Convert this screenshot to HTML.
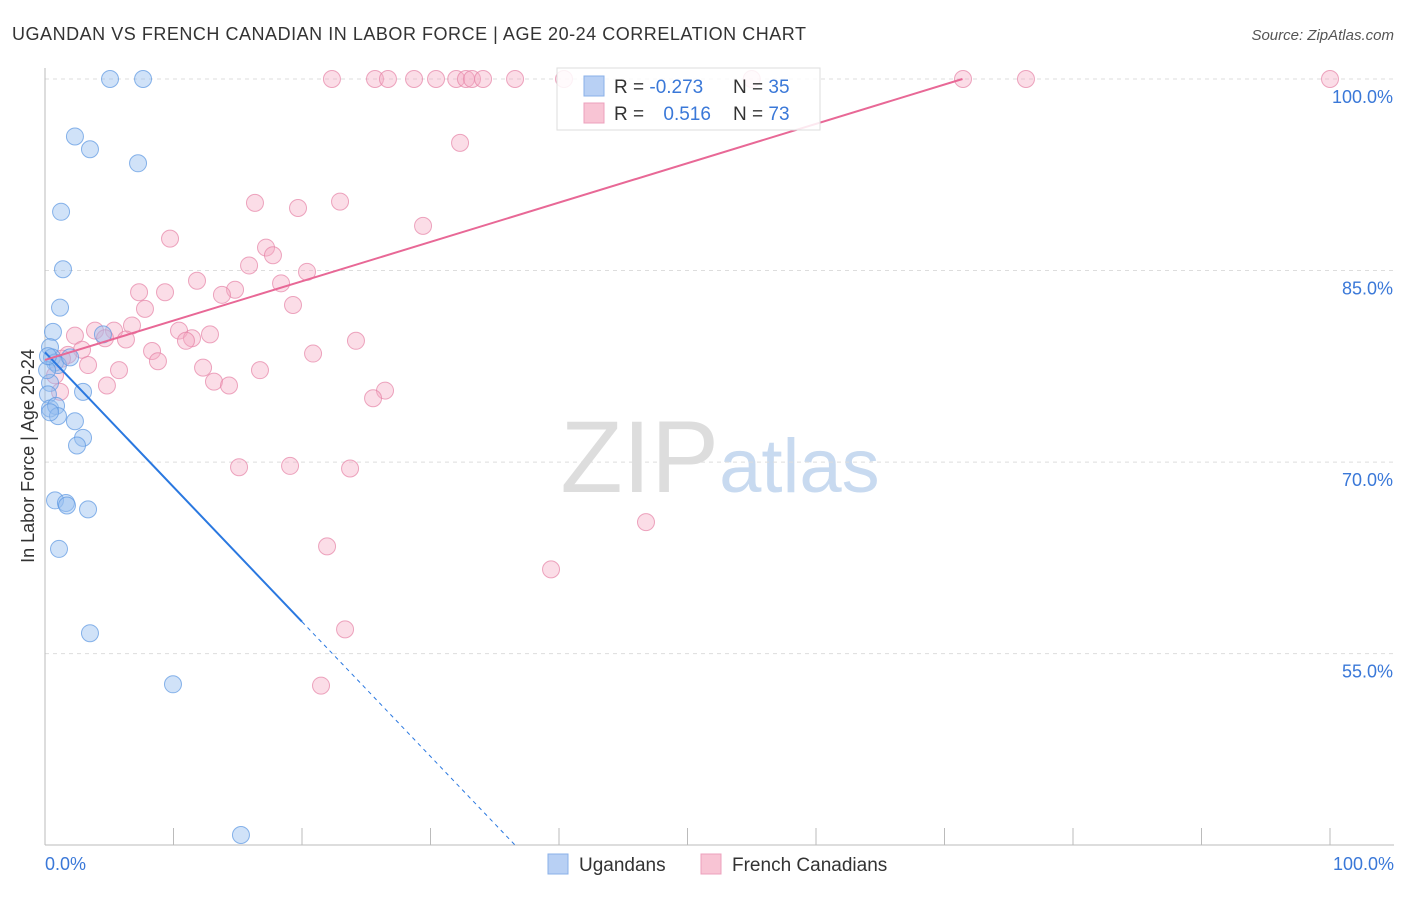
<!DOCTYPE html>
<html><head><meta charset="utf-8">
<style>
body{margin:0;background:#fff;font-family:"Liberation Sans",sans-serif;}
svg text{font-family:"Liberation Sans",sans-serif;}
</style></head>
<body>
<svg id="chart" width="1406" height="892">
<text x="12" y="40" font-size="18" fill="#333" textLength="794">UGANDAN VS FRENCH CANADIAN IN LABOR FORCE | AGE 20-24 CORRELATION CHART</text>
<text x="1394" y="40" font-size="15" fill="#555" font-style="italic" text-anchor="end">Source: ZipAtlas.com</text>
<text x="720" y="492" font-size="102" fill="#ddd" text-anchor="middle" font-family="Liberation Serif">ZIP<tspan fill="#c8daf0" font-family="Liberation Sans" font-size="76">atlas</tspan></text>
<g id="grid"></g>
<g id="axes"></g>
<g id="marks"></g>
<text transform="translate(34,456) rotate(-90)" font-size="18" fill="#333" text-anchor="middle">In Labor Force | Age 20-24</text>
<g>
<rect x="557" y="68" width="263" height="62" fill="#fff" fill-opacity="0.85" stroke="#ddd"/>
<rect x="584" y="76" width="20" height="20" fill="#b8d0f4" stroke="#8ab0e8"/>
<rect x="584" y="103" width="20" height="20" fill="#f8c4d4" stroke="#eca0bc"/>
<text x="614" y="93" font-size="19" fill="#333">R = <tspan fill="#3a78d8">-0.273</tspan></text>
<text x="733" y="93" font-size="19" fill="#333">N = <tspan fill="#3a78d8">35</tspan></text>
<text x="614" y="120" font-size="19" fill="#333">R = <tspan fill="#3a78d8" dx="14">0.516</tspan></text>
<text x="733" y="120" font-size="19" fill="#333">N = <tspan fill="#3a78d8">73</tspan></text>
</g>
<g>
<rect x="548" y="854" width="20" height="20" fill="#b8d0f4" stroke="#8ab0e8"/>
<text x="579" y="871" font-size="19" fill="#333">Ugandans</text>
<rect x="701" y="854" width="20" height="20" fill="#f8c4d4" stroke="#eca0bc"/>
<text x="732" y="871" font-size="19" fill="#333">French Canadians</text>
</g>
</svg>
<script>
const yTicks=[55,70,85,100];
const yTickLabels=["55.0%","70.0%","85.0%","100.0%"];
const xTickLabels=["0.0%","100.0%"];
const ugX=[5.06,7.63,2.33,3.5,7.24,1.25,1.4,1.17,0.62,0.39,0.54,0.78,1.01,1.95,0.39,0.23,2.96,0.39,0.86,1.01,2.33,2.96,2.49,0.78,1.63,1.71,3.35,1.09,3.5,9.96,15.25,4.51,0.16,0.39,0.23];
const ugY=[100,100,95.5,94.5,93.4,89.6,85.1,82.1,80.2,79.0,78.2,77.8,77.6,78.2,76.2,75.3,75.5,74.2,74.4,73.6,73.2,71.9,71.3,67.0,66.8,66.6,66.3,63.2,56.6,52.6,40.8,80.0,77.2,73.9,78.3];
const frX=[22.33,25.68,26.69,28.72,30.43,32.0,32.76,33.23,34.09,36.58,40.39,55.0,71.44,76.34,100,32.3,16.34,19.69,22.96,29.42,9.73,17.2,17.74,15.88,20.39,11.83,18.37,14.79,7.32,9.34,13.77,19.3,7.78,6.77,3.89,5.37,10.43,12.84,2.33,4.67,11.44,10.97,6.3,24.2,8.33,2.88,1.79,20.86,8.79,3.35,5.76,12.3,16.73,13.15,14.32,4.82,26.46,25.53,1.17,15.1,19.07,23.74,46.77,21.95,39.38,23.35,21.48,0.78,1.32];
const frY=[100,100,100,100,100,100,100,100,100,100,100,100,100,100,100,95.0,90.3,89.9,90.4,88.5,87.5,86.8,86.2,85.4,84.9,84.2,84.0,83.5,83.3,83.3,83.1,82.3,82.0,80.7,80.3,80.3,80.3,80.0,79.9,79.7,79.7,79.5,79.6,79.5,78.7,78.8,78.4,78.5,77.9,77.6,77.2,77.4,77.2,76.3,76.0,76.0,75.6,75.0,75.5,69.6,69.7,69.5,65.3,63.4,61.6,56.9,52.5,76.8,78.1];
const ugLine=[78.6,57.5]; // y at x=0 and x=20
const frLine=[78.0,100]; // y at x=0 and x=71.4
const ns="http://www.w3.org/2000/svg";
const X=v=>45+v*12.85, Y=v=>79+(100-v)*12.77;
function mk(p,t,a){const e=document.createElementNS(ns,t);for(const k in a)e.setAttribute(k,a[k]);document.getElementById(p).appendChild(e);return e;}
yTicks.forEach((t,i)=>{
 const g=mk('grid','line',{x1:45,x2:1394,y1:Y(t),y2:Y(t),stroke:'#ddd','stroke-dasharray':'4,4'});
 
 
 const l=mk('axes','text',{x:1393,y:Y(t)+24,'font-size':18,fill:'#3a78d8','text-anchor':'end'});
 l.textContent=yTickLabels[i];
 
 
});
const xa=mk('axes','line',{x1:45,x2:1394,y1:845,y2:845,stroke:'#bbb'});


const ya=mk('axes','line',{x1:45,x2:45,y1:68,y2:845,stroke:'#bbb'});


for(let i=1;i<=10;i++){const t=mk('axes','line',{x1:X(i*10),x2:X(i*10),y1:828,y2:845,stroke:'#bbb'});
 
 }
[[0,'start',45],[100,'end',1394]].forEach((d,i)=>{const l=mk('axes','text',{x:d[2],y:870,'font-size':18,fill:'#3a78d8','text-anchor':d[1]});
 l.textContent=xTickLabels[i];
 
 });
frX.forEach((x,i)=>{const c=mk('marks','circle',{cx:X(x),cy:Y(frY[i]),r:8.5,fill:'rgba(245,170,195,0.4)',stroke:'rgba(230,130,165,0.7)'});
 
 });
ugX.forEach((x,i)=>{const c=mk('marks','circle',{cx:X(x),cy:Y(ugY[i]),r:8.5,fill:'rgba(150,190,240,0.45)',stroke:'rgba(90,150,225,0.7)'});
 
 });
const slope=(ugLine[1]-ugLine[0])/20, xEnd=(40-ugLine[0])/slope;
const l1=mk('marks','line',{x1:X(0),y1:Y(ugLine[0]),x2:X(20),y2:Y(ugLine[1]),stroke:'#2a78e0','stroke-width':2});


const l2=mk('marks','line',{x1:X(20),y1:Y(ugLine[1]),x2:X(xEnd),y2:Y(40),stroke:'#2a78e0','stroke-width':1,'stroke-dasharray':'4,4'});


const l3=mk('marks','line',{x1:X(0),y1:Y(frLine[0]),x2:X(71.4),y2:Y(frLine[1]),stroke:'#e86896','stroke-width':2});


</script>
</body></html>
